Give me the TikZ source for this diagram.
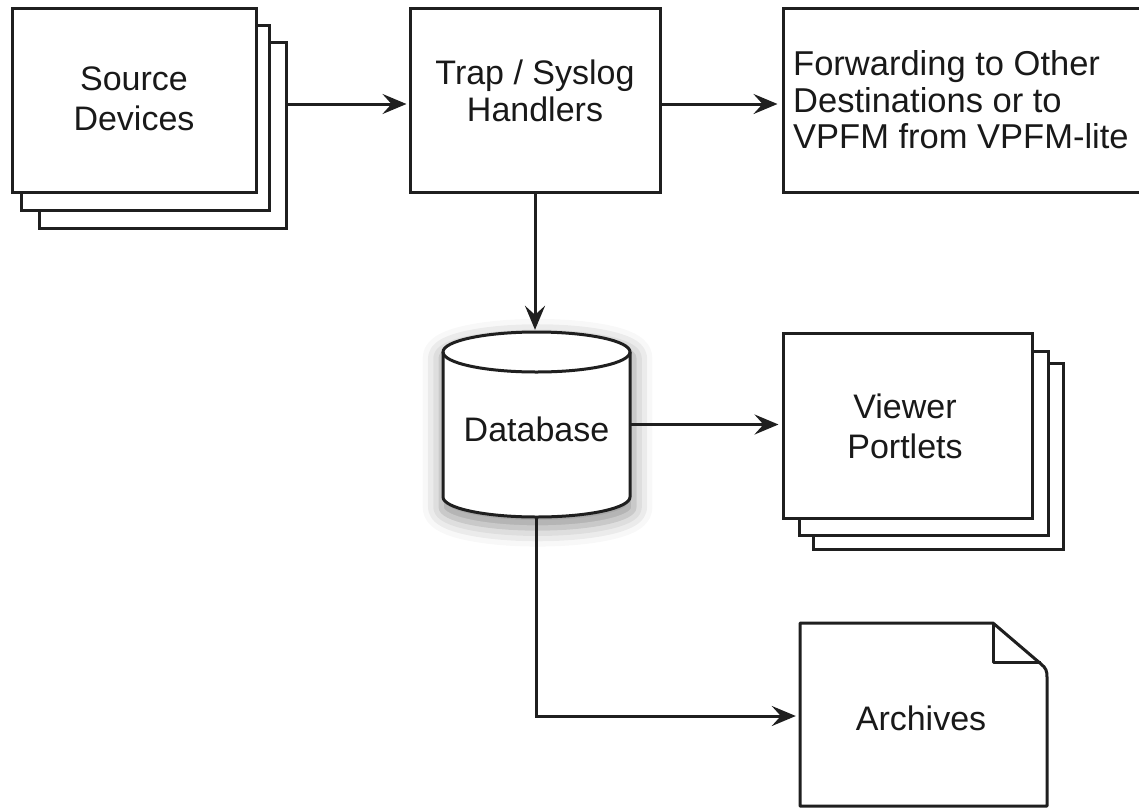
\documentclass[tikz,border=0pt]{standalone}
\usepackage{fontspec}
\setmainfont{Liberation Sans}
\usetikzlibrary{arrows.meta,shadows.blur,calc}
\begin{document}
\begin{tikzpicture}[x=1pt,y=-1pt,
  ink/.style={draw=black!88, line width=3pt},
  box/.style={ink, fill=white, inner sep=0pt},
  txt/.style={inner sep=0pt, text=black!90, align=center, font=\fontsize{34}{40}\selectfont},
  arr/.style={draw=black!88, line width=3pt, -{Stealth[length=24pt,width=20pt,inset=9pt]}}]
\useasboundingbox (0,0) rectangle (1139,809);
\clip (0,0) rectangle (1139,809);
% Source devices (stack)
\node[box, minimum width=247, minimum height=186] (src3) at (162.5,135) {};
\node[box, minimum width=248, minimum height=185] (src2) at (145,117.5) {};
\node[box, minimum width=244, minimum height=184] (src) at (134,100) {};
\node[txt] (srctext) at (134,99) {Source\\Devices};
% Trap / Syslog handlers
\node[box, minimum width=250, minimum height=184] (trap) at (535,100) {};
\node[txt, font=\fontsize{34}{37}\selectfont] (traptext) at (535,91) {Trap / Syslog\\Handlers};
% Forwarding
\node[box, minimum width=367, minimum height=184] (fwd) at (966.5,100) {};
\node[txt, anchor=west, align=left, font=\fontsize{34.5}{36.5}\selectfont] (fwdtext) at (793,100) {Forwarding to Other\\Destinations or to\\VPFM from VPFM-lite};
% Database cylinder
\path[blur shadow={shadow xshift=1pt, shadow yshift=-8pt, shadow blur radius=18pt, shadow opacity=42, shadow scale=1.03}]
  (443,352) .. controls (443,341) and (484.86,332) .. (536.5,332)
  .. controls (588.14,332) and (630,341) .. (630,352) -- (630,497)
  .. controls (630,508.05) and (588.14,517) .. (536.5,517)
  .. controls (484.86,517) and (443,508.05) .. (443,497) -- cycle;
\fill[white]
  (443,352) .. controls (443,341) and (484.86,332) .. (536.5,332)
  .. controls (588.14,332) and (630,341) .. (630,352) -- (630,497)
  .. controls (630,508.05) and (588.14,517) .. (536.5,517)
  .. controls (484.86,517) and (443,508.05) .. (443,497) -- cycle;
\draw[ink] (536.5,352) ellipse [x radius=93.5, y radius=20];
\draw[ink] (443,352) -- (443,497)
  .. controls (443,508.05) and (484.86,517) .. (536.5,517)
  .. controls (588.14,517) and (630,508.05) .. (630,497) -- (630,352);
\node[minimum width=187, minimum height=185, inner sep=0pt] (db) at (536.5,424.5) {};
\node[txt] (dbtext) at (536.5,429) {Database};
% Viewer portlets (stack)
\node[box, minimum width=250, minimum height=186] (view3) at (938,456) {};
\node[box, minimum width=249, minimum height=184] (view2) at (923.5,443) {};
\node[box, minimum width=249, minimum height=185] (view) at (907.5,425.5) {};
\node[txt] (viewtext) at (905,426) {Viewer\\Portlets};
% Archives (document with folded corner)
\draw[ink, fill=white, line join=round] (800,623) -- (993,623) -- (1041,664)
  .. controls (1046,668) and (1047,671) .. (1047,677) -- (1047,806) -- (800,806) -- cycle;
\draw[ink, line join=round] (993,623) -- (993,662) -- (1041,662);
\node[minimum width=247, minimum height=183, inner sep=0pt] (arch) at (923.5,716) {};
\node[txt] (archtext) at (921,718) {Archives};
% Connectors
\coordinate (a1) at ($(trap.west)+(0,4)$);
\coordinate (a2) at ($(fwd.west)+(0,4)$);
\draw[arr] (src3.east |- a1) -- ([xshift=-2pt]a1);
\draw[arr] (trap.east |- a2) -- ([xshift=-4pt]a2);
\draw[arr] (trap.south) -- ([yshift=2pt]trap.south |- db.north);
\draw[arr] (db.east) -- ([xshift=-3pt]view.west |- db.east);
\draw[arr] (db.south) |- ([xshift=-4pt]arch.west);
\end{tikzpicture}
\end{document}
